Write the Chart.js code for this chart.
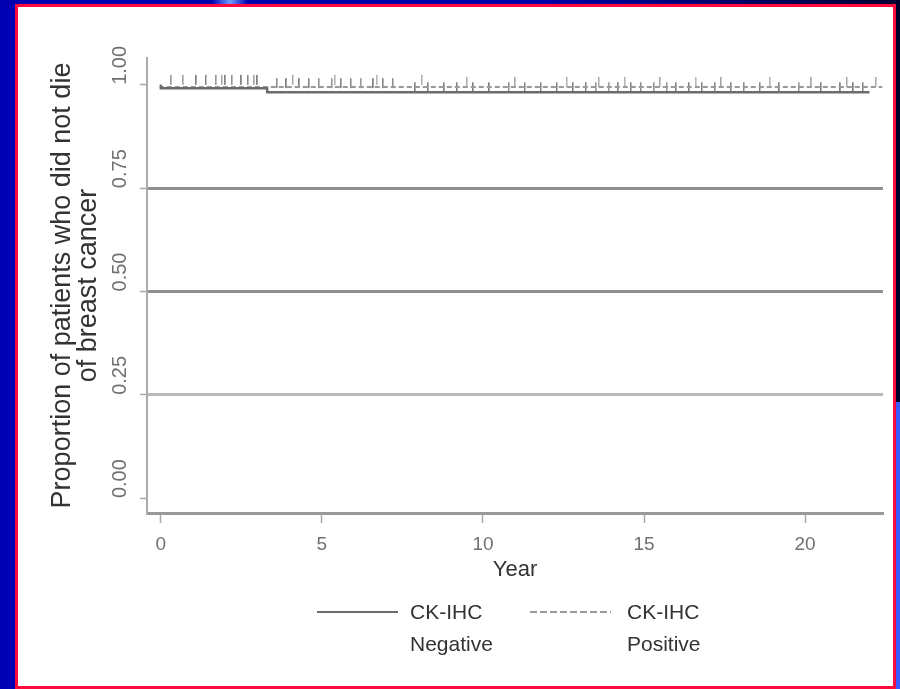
<!DOCTYPE html>
<html lang="en">
<head>
<meta charset="UTF-8">
<title>CK-IHC breast cancer survival</title>
<script src="https://cdn.jsdelivr.net/npm/chart.js"></script>
<style>
  html, body { margin: 0; padding: 0; }
  body {
    width: 900px; height: 689px; position: relative; overflow: hidden;
    background: #0000b4;
    font-family: 'Liberation Sans', Arial, sans-serif;
  }
  .edge-top {
    position: absolute; left: 0; top: 0; width: 900px; height: 4px;
    background: linear-gradient(90deg, #0000b0 0%, #0000a8 60%, #000030 100%);
  }
  .streak {
    position: absolute; left: 212px; top: 0; width: 36px; height: 4px;
    background: linear-gradient(90deg, #0000b0, #6f9cff, #0000b0);
  }
  .edge-right-top { position: absolute; left: 896px; top: 0; width: 4px; height: 402px; background: #00002c; }
  .edge-right-bottom { position: absolute; left: 896px; top: 402px; width: 4px; height: 287px; background: #3a5cff; }
  .panel {
    position: absolute; left: 15px; top: 4px; width: 875px; height: 679px;
    border: 3px solid #ff0a3c; background: #fff;
  }
  .panel canvas { position: absolute; left: 0; top: 0; }
  .legend-item { position: absolute; top: 596px; }
  .legend-item .sample { position: absolute; top: 15px; height: 2px; }
  .legend-item .txt {
    position: absolute; font-size: 21px; line-height: 32px; color: #333; white-space: nowrap;
  }
</style>
</head>
<body>
<div class="edge-top"></div>
<div class="streak"></div>
<div class="edge-right-top"></div>
<div class="edge-right-bottom"></div>
<div class="panel">
  <canvas id="km" width="875" height="679"></canvas>
</div>
<div id="legend"></div>

<script>
// Kaplan-Meier steps (year, proportion still alive)
const negTimes = [0, 3.3, 7.5, 22.0];
const negSurv = [1.0, 0.992, 0.982, 0.982];
const posTimes = [0, 9.0, 22.4];
const posSurv = [1.0, 0.995, 0.995];

// censored cases (small vertical ticks on the curves)
const negCensor = [0.3, 1.1, 1.4, 1.7, 2.0, 2.2, 2.5, 2.7, 3.0, 3.6, 3.9, 4.3, 4.6, 4.9, 5.3, 5.6,
  5.9, 6.2, 6.6, 6.9, 7.2, 7.9, 8.3, 8.8, 9.2, 9.7, 10.2, 10.8, 11.3, 11.8, 12.3, 12.8, 13.2,
  13.5, 13.9, 14.2, 14.6, 14.9, 15.3, 15.7, 16.0, 16.4, 16.8, 17.2, 17.7, 18.1, 18.6, 19.2,
  19.8, 20.5, 21.1, 21.5, 21.8];
const posCensor = [0.7, 1.9, 2.9, 4.1, 5.4, 6.7, 8.1, 9.5, 11.0, 12.6, 13.6, 14.4, 15.5, 16.6,
  17.4, 18.9, 20.2, 21.3, 22.2];

const xTicks = [0, 5, 10, 15, 20];
const yTicks = [0, 0.25, 0.5, 0.75, 1];
const yTickLabels = ['0.00', '0.25', '0.50', '0.75', '1.00'];
const seriesNames = [['CK-IHC', 'Negative'], ['CK-IHC', 'Positive']];

const FONT = "'Liberation Sans', Arial, sans-serif";
const negColor = '#6b6b6b';
const posColor = '#9a9a9a';

// value of the step curve at time t
function survAt(times, surv, t) {
  let v = surv[0];
  for (let i = 0; i < times.length; i++) {
    if (times[i] <= t) v = surv[i];
  }
  return v;
}

// tick mark image sitting on top of the point
function censorMark(color) {
  const c = document.createElement('canvas');
  c.width = 2; c.height = 22;
  const g = c.getContext('2d');
  g.fillStyle = color;
  g.fillRect(0, 1, 1.5, 10);
  return c;
}

const gridColors = { 0.25: '#b9b9b9', 0.5: '#8f8f8f', 0.75: '#8f8f8f' };

const chart = new Chart(document.getElementById('km'), {
  type: 'line',
  data: {
    datasets: [
      {
        label: 'CK-IHC Negative',
        data: negTimes.map((t, i) => ({ x: t, y: negSurv[i] })),
        stepped: 'after',
        borderColor: negColor,
        borderWidth: 2.5,
        pointRadius: 0,
        fill: false
      },
      {
        label: 'CK-IHC Positive',
        data: posTimes.map((t, i) => ({ x: t, y: posSurv[i] })),
        stepped: 'after',
        borderColor: posColor,
        borderWidth: 2,
        borderDash: [5, 3],
        pointRadius: 0,
        fill: false
      },
      {
        label: 'neg censored',
        data: negCensor.map(t => ({ x: t, y: survAt(negTimes, negSurv, t) })),
        showLine: false,
        pointStyle: censorMark('#808080'),
        pointRadius: 6,
        borderWidth: 0
      },
      {
        label: 'pos censored',
        data: posCensor.map(t => ({ x: t, y: survAt(posTimes, posSurv, t) })),
        showLine: false,
        pointStyle: censorMark('#a8a8a8'),
        pointRadius: 6,
        borderWidth: 0
      }
    ]
  },
  options: {
    responsive: false,
    animation: false,
    devicePixelRatio: 1,
    layout: { padding: { left: 0, right: 10, top: 51, bottom: 93 } },
    plugins: {
      tooltip: { enabled: false },
      legend: { display: false }
    },
    scales: {
      x: {
        type: 'linear',
        min: -0.43,
        max: 22.42,
        afterBuildTicks: s => { s.ticks = xTicks.map(v => ({ value: v })); },
        afterFit: s => { s.height = 80; },
        grid: { drawOnChartArea: false, drawTicks: true, tickLength: 10, tickColor: '#a8a8a8', tickWidth: 1.5 },
        border: { display: true, color: '#999', width: 3 },
        ticks: { color: '#707070', font: { family: FONT, size: 19 }, padding: 10, maxRotation: 0 },
        title: {
          display: true, text: 'Year', color: '#333',
          font: { family: FONT, size: 22, lineHeight: 1.2 },
          padding: { top: 0, bottom: 10 }
        }
      },
      y: {
        min: -0.036,
        max: 1.065,
        afterBuildTicks: s => { s.ticks = yTicks.map(v => ({ value: v })); },
        afterFit: s => { s.width = 129; },
        grid: {
          color: c => gridColors[c.tick.value] || 'rgba(0,0,0,0)',
          lineWidth: 3,
          drawTicks: true,
          tickLength: 7,
          tickColor: '#aaa',
          tickWidth: 1.5
        },
        border: { display: true, color: '#aaa', width: 2 },
        ticks: {
          minRotation: 90, maxRotation: 90, mirror: true, padding: -27,
          color: '#707070', font: { family: FONT, size: 20 },
          callback: v => yTickLabels[yTicks.indexOf(v)]
        },
        title: {
          display: true,
          text: ['Proportion of patients who did not die', 'of breast cancer'],
          color: '#333',
          font: { family: FONT, size: 27, lineHeight: 0.97 },
          padding: { top: 31 }
        }
      }
    }
  }
});

// two-line legend below the axis, same colours and dashes as the curves
const legendSpots = [{ line: 317, text: 410, dash: false }, { line: 530, text: 627, dash: true }];
const legendBox = document.getElementById('legend');
seriesNames.forEach((name, i) => {
  const spot = legendSpots[i];
  const col = i === 0 ? negColor : posColor;
  const item = document.createElement('div');
  item.className = 'legend-item';
  item.style.left = spot.line + 'px';
  const sample = document.createElement('div');
  sample.className = 'sample';
  sample.style.left = '0px';
  sample.style.width = '81px';
  sample.style.background = spot.dash
    ? `repeating-linear-gradient(90deg, ${col} 0 7px, transparent 7px 10px)`
    : col;
  const txt = document.createElement('div');
  txt.className = 'txt';
  txt.style.left = (spot.text - spot.line) + 'px';
  txt.innerHTML = name.join('<br>');
  item.appendChild(sample);
  item.appendChild(txt);
  legendBox.appendChild(item);
});
</script>
</body>
</html>
